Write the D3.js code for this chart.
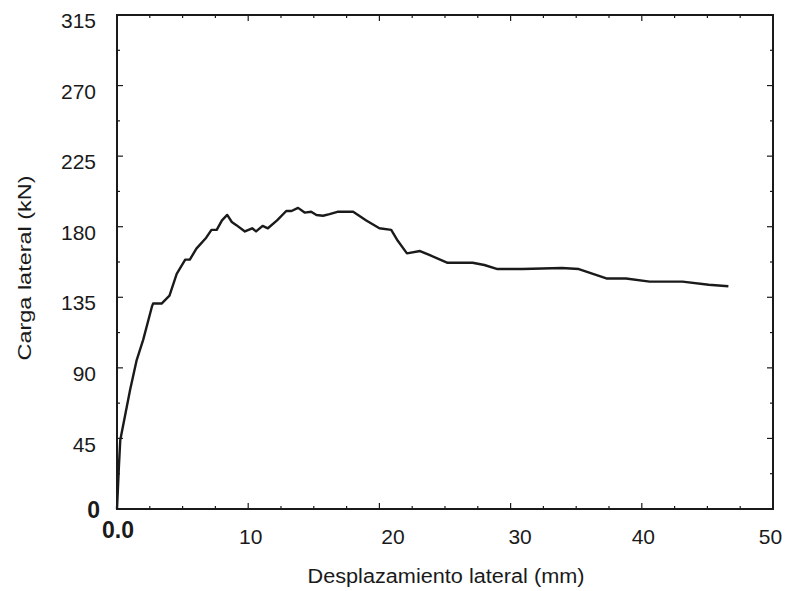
<!DOCTYPE html>
<html><head><meta charset="utf-8">
<script src="https://cdn.jsdelivr.net/npm/d3@7"></script>
<style>body{margin:0;background:#fff}svg{display:block}</style>
</head><body><svg id="c" width="786" height="591"></svg>
<script>
const dispX = [0,0.15,0.25,1.0,1.5,2.0,2.66,2.75,3.4,4.0,4.55,5.2,5.55,6.05,6.8,7.2,7.6,8.0,8.4,8.75,9.1,9.75,10.3,10.6,11.1,11.5,12.2,12.9,13.3,13.8,14.3,14.8,15.2,15.7,16.2,16.8,18.0,19.0,20.0,20.9,21.4,22.1,23.1,23.8,25.2,27.1,28.0,29.0,30.9,33.9,35.2,37.3,38.8,40.6,43.1,45.1,46.6];
const loadY = [0,28,44,76,95,108,129,131,131,136,150,159,159,166,173,178,178,184,187.5,183,181,177,179,177,180.5,179,184,190,190,192,189,189.5,187.5,187,188,189.5,189.5,184,179,178,171,163,164.5,162,157,157,155.6,153,153,153.7,153,147,147,145,145,143,142];
const xTicks = [0,10,20,30,40,50];
const xTickLabels = ["0.0","10","20","30","40","50"];
const yTicks = [0,45,90,135,180,225,270,315];
const xTitle = "Desplazamiento lateral (mm)";
const yTitle = "Carga lateral (kN)";

const svg = d3.select("#c");
const L=117, R=773, T=15, B=509;
const x = d3.scaleLinear().domain([0,50]).range([L,R]);
const y = d3.scaleLinear().domain([0,315]).range([B,T]);
const font = "'Liberation Sans', Arial, sans-serif";
const ink = "#1a1a1a";

const xMinor = d3.range(0,50.01,2.5);
const yMinor = d3.range(0,315.01,22.5);
const g = svg.append("g");
function tickLines(vals, isX, edge, len){
  g.selectAll(null).data(vals).enter().append("line")
   .attr("x1", d=> isX ? x(d) : edge)
   .attr("x2", d=> isX ? x(d) : edge + len)
   .attr("y1", d=> isX ? edge : y(d))
   .attr("y2", d=> isX ? edge + len : y(d))
   .attr("stroke", ink).attr("stroke-width",1.2);
}
tickLines(xMinor.filter(v=>v%10!==0), true, B, -3);
tickLines(xTicks, true, B, -6);
tickLines(xMinor.filter(v=>v%10!==0), true, T, 3);
tickLines(xTicks, true, T, 6);
tickLines(yMinor.filter(v=>v%45!==0), false, L, 3);
tickLines(yTicks, false, L, 6);
tickLines(yMinor.filter(v=>v%45!==0), false, R, -3);
tickLines(yTicks, false, R, -6);

svg.append("rect").attr("x",L).attr("y",T).attr("width",R-L).attr("height",B-T)
  .attr("fill","none").attr("stroke",ink).attr("stroke-width",2);

const xLabelShift = {0:0.5, 10:2, 20:13, 30:9, 40:1, 50:-3};
const xAxis = d3.axisBottom(x).tickValues(xTicks).tickSize(0)
  .tickFormat((d,i)=>xTickLabels[i]);
const xg = svg.append("g").attr("transform",`translate(0,${B})`).call(xAxis);
xg.select(".domain").remove();
xg.selectAll("text").attr("font-family",font).attr("fill",ink)
  .attr("font-size",d=> d===0 ? 23 : 21)
  .attr("font-weight",d=> d===0 ? "bold" : "normal")
  .attr("dx",d=> xLabelShift[d])
  .attr("y",d=> d===0 ? 20.5 : 27.5)
  .attr("dy","0.35em");

const yAxis = d3.axisLeft(y).tickValues(yTicks).tickSize(0).tickFormat(d3.format("d"));
const yg = svg.append("g").attr("transform",`translate(${L},0)`).call(yAxis);
yg.select(".domain").remove();
yg.selectAll("text").attr("font-family",font).attr("fill",ink)
  .attr("font-size",d=> d===0 ? 23 : 21)
  .attr("font-weight",d=> d===0 ? "bold":"normal")
  .attr("x",d=> d===0 ? -17 : -21)
  .attr("dy",d=> d===0 ? "0.38em" : "0.6em");

const pts = dispX.map((d,i)=>[d, loadY[i]]);
svg.append("path").datum(pts)
  .attr("d", d3.line().x(d=>x(d[0])).y(d=>y(d[1])))
  .attr("fill","none").attr("stroke",ink).attr("stroke-width",2.4)
  .attr("stroke-linejoin","round");

svg.append("text").attr("x",446).attr("y",583).attr("text-anchor","middle")
  .attr("font-family",font).attr("font-size",20).attr("fill",ink)
  .attr("textLength",277).attr("lengthAdjust","spacingAndGlyphs").text(xTitle);
svg.append("text").attr("transform","translate(31,268) rotate(-90)").attr("text-anchor","middle")
  .attr("font-family",font).attr("font-size",19).attr("fill",ink)
  .attr("textLength",185).attr("lengthAdjust","spacingAndGlyphs").text(yTitle);
</script></body></html>
